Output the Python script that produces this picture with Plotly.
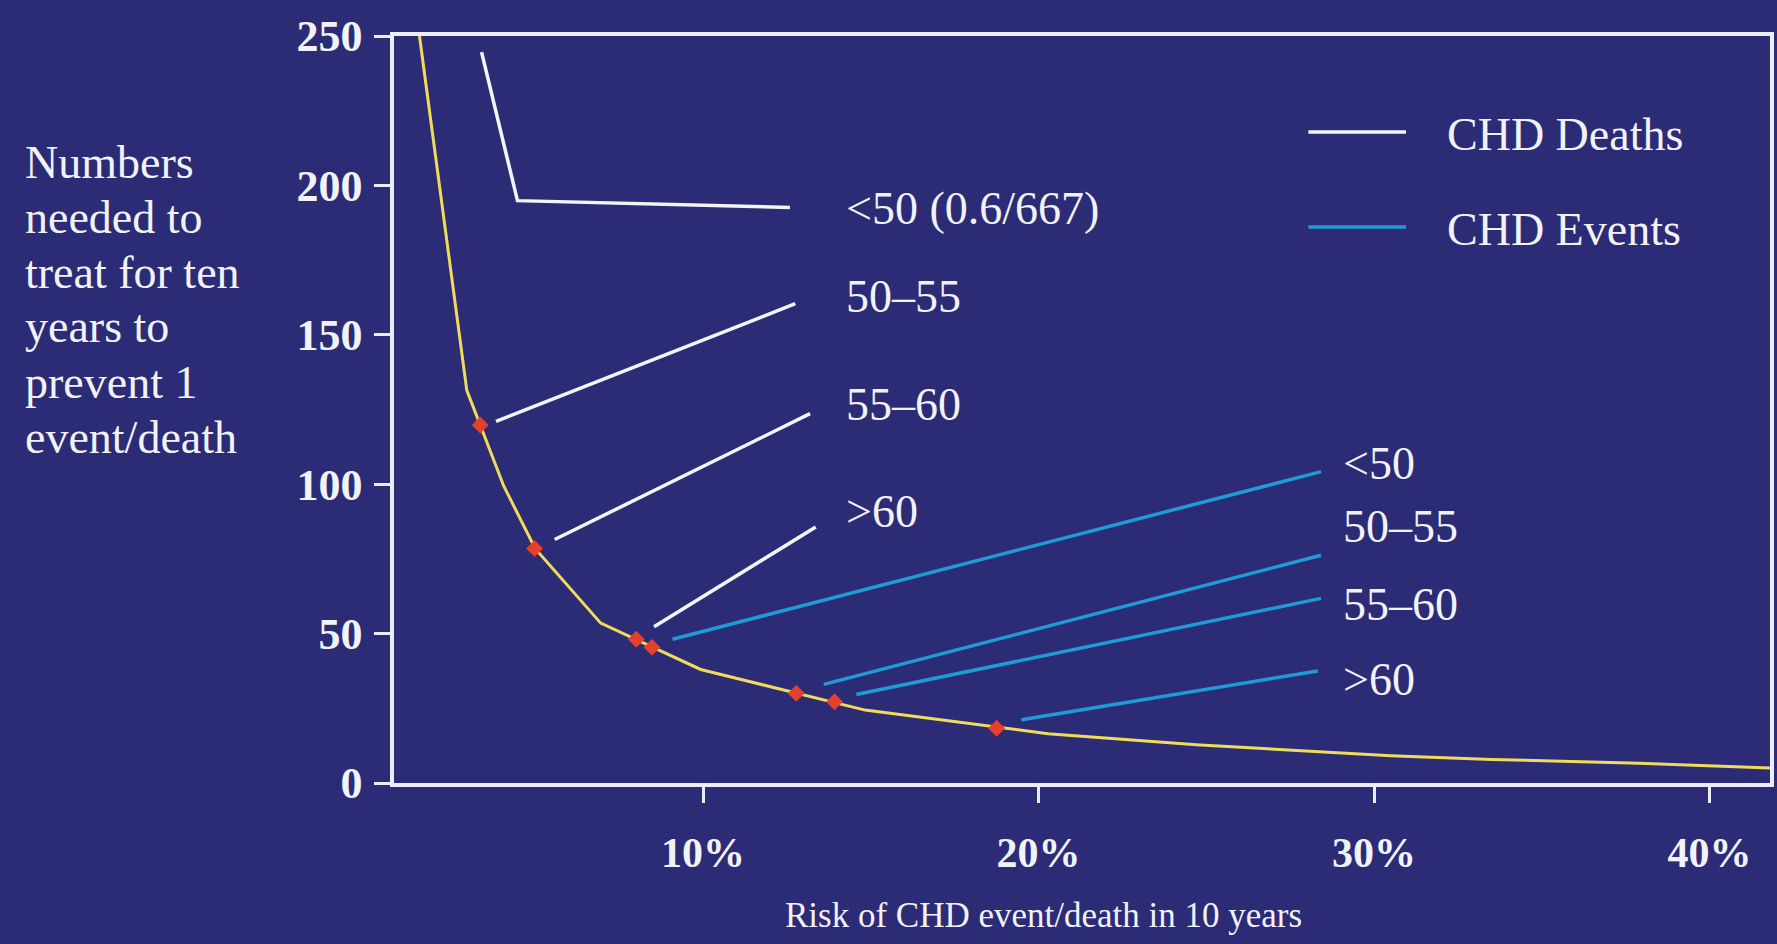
import plotly.graph_objects as go

# ---------------- data ----------------
risk_curve = [1.55, 2.96, 4.06, 5.0, 6.95, 9.93, 14.83, 20.28, 24.7, 30.5, 33.5, 37.9, 41.8]
nnt_curve = [250, 131.4, 99.4, 78.4, 53.5, 38.0, 24.4, 16.5, 12.8, 9.1, 7.9, 6.6, 5.0]

death_groups = ["50–55", "55–60", ">60"]
death_risk = [3.36, 4.98, 8.01]
death_nnt = [119.8, 78.5, 48.1]
death_offchart_label = "<50 (0.6/667)"

event_groups = ["<50", "50–55", "55–60", ">60"]
event_risk = [8.48, 12.78, 13.92, 18.75]
event_nnt = [45.4, 30.0, 27.2, 18.3]

y_ticks = [0, 50, 100, 150, 200, 250]
x_ticks = [10, 20, 30, 40]
x_ticktext = ["10%", "20%", "30%", "40%"]

y_title_lines = ["Numbers", "needed to", "treat for ten", "years to", "prevent 1", "event/death"]
x_title = "Risk of CHD event/death in 10 years"
legend_names = ["CHD Deaths", "CHD Events"]

# ---------------- annotation layout (data units) ----------------
death_start = [(3.83, 121.0), (5.58, 81.5), (8.54, 52.3)]
death_end = [(12.75, 160.4), (13.19, 123.6), (13.36, 85.7)]
death_label_y = [162.7, 126.8, 91.0]
offchart_path = [(3.40, 244.6), (4.47, 194.9), (12.59, 192.6)]
offchart_label_y = 192.4
death_label_x = 14.2

event_start = [(9.09, 48.1), (13.6, 33.0), (14.57, 29.6), (19.49, 21.2)]
event_end = [(28.42, 104.2), (28.42, 76.2), (28.42, 61.8), (28.32, 37.5)]
event_label_y = [106.8, 85.7, 59.9, 34.5]
event_label_x = 29.0

BG = "#2c2b75"
FG = "#f2f2fa"
AXIS = "#ececfb"
YELLOW = "#efdc5c"
RED = "#e4402c"
BLUE = "#1f9bd6"
WHITE = "#f4f4fb"
SERIF = "Liberation Serif"
LABEL_SIZE = 46

fig = go.Figure()

# leader lines for deaths (white)
xs, ys = [], []
for (x, y) in offchart_path:
    xs.append(x); ys.append(y)
xs.append(None); ys.append(None)
for s, e in zip(death_start, death_end):
    xs += [s[0], e[0], None]
    ys += [s[1], e[1], None]
fig.add_trace(go.Scatter(x=xs, y=ys, mode="lines", line=dict(color=WHITE, width=3.5),
                         hoverinfo="skip", showlegend=False))

# leader lines for events (blue)
xs, ys = [], []
for s, e in zip(event_start, event_end):
    xs += [s[0], e[0], None]
    ys += [s[1], e[1], None]
fig.add_trace(go.Scatter(x=xs, y=ys, mode="lines", line=dict(color=BLUE, width=3.5),
                         hoverinfo="skip", showlegend=False))

# NNT curve
fig.add_trace(go.Scatter(x=risk_curve, y=nnt_curve, mode="lines",
                         line=dict(color=YELLOW, width=3), showlegend=False))

# red markers
fig.add_trace(go.Scatter(x=death_risk + event_risk, y=death_nnt + event_nnt, mode="markers",
                         marker=dict(symbol="diamond", size=13, color=RED),
                         text=death_groups + event_groups, showlegend=False))

annotations = []
annotations.append(dict(x=death_label_x, y=offchart_label_y, xref="x", yref="y",
                        text=death_offchart_label, showarrow=False, xanchor="left", yanchor="middle",
                        font=dict(family=SERIF, size=LABEL_SIZE, color=FG)))
for g, ly in zip(death_groups, death_label_y):
    annotations.append(dict(x=death_label_x, y=ly, xref="x", yref="y", text=g, showarrow=False,
                            xanchor="left", yanchor="middle",
                            font=dict(family=SERIF, size=LABEL_SIZE, color=FG)))
for g, ly in zip(event_groups, event_label_y):
    annotations.append(dict(x=event_label_x, y=ly, xref="x", yref="y", text=g, showarrow=False,
                            xanchor="left", yanchor="middle",
                            font=dict(family=SERIF, size=LABEL_SIZE, color=FG)))

# y title, one annotation per line (pixel-based line spacing)
plot_top, plot_h = 36, 747
first_line_px, line_gap_px = 162, 55
for i, line in enumerate(y_title_lines):
    py = first_line_px + i * line_gap_px
    annotations.append(dict(x=(22 - 394) / 1380, y=(plot_top + plot_h - py) / plot_h,
                            xref="paper", yref="paper", text=line, showarrow=False,
                            xanchor="left", yanchor="middle",
                            font=dict(family=SERIF, size=LABEL_SIZE, color=FG)))

annotations.append(dict(x=0.4717, y=-0.178, xref="paper", yref="paper",
                        text=x_title, showarrow=False, xanchor="center", yanchor="middle",
                        font=dict(family=SERIF, size=35, color=FG)))

# legend
annotations.append(dict(x=0.764, y=0.8688, xref="paper", yref="paper", text=legend_names[0],
                        showarrow=False, xanchor="left", yanchor="middle",
                        font=dict(family=SERIF, size=LABEL_SIZE, color=FG)))
annotations.append(dict(x=0.764, y=0.7416, xref="paper", yref="paper", text=legend_names[1],
                        showarrow=False, xanchor="left", yanchor="middle",
                        font=dict(family=SERIF, size=LABEL_SIZE, color=FG)))
shapes = [
    dict(type="line", xref="paper", yref="paper", x0=0.6645, x1=0.7355, y0=0.8715, y1=0.8715,
         line=dict(color=WHITE, width=3.5)),
    dict(type="line", xref="paper", yref="paper", x0=0.6645, x1=0.7355, y0=0.7443, y1=0.7443,
         line=dict(color=BLUE, width=3.5)),
]

fig.update_layout(
    width=1777, height=944,
    margin=dict(l=394, r=3, t=36, b=161),
    paper_bgcolor=BG, plot_bgcolor=BG,
    annotations=annotations, shapes=shapes,
    showlegend=False,
    xaxis=dict(range=[0.79, 41.8], tickvals=x_ticks, ticktext=x_ticktext,
               showgrid=False, zeroline=False, showline=True, linecolor=AXIS, linewidth=3.5,
               mirror=True, ticks="outside", ticklen=16, tickwidth=3, tickcolor=AXIS,
               ticklabelstandoff=14,
               tickfont=dict(family=SERIF, size=42, color=FG, weight="bold")),
    yaxis=dict(range=[0, 250], tickvals=y_ticks,
               showgrid=False, zeroline=False, showline=True, linecolor=AXIS, linewidth=3.5,
               mirror=True, ticks="outside", ticklen=16, tickwidth=3, tickcolor=AXIS,
               ticklabelstandoff=3,
               tickfont=dict(family=SERIF, size=44, color=FG, weight="bold")),
)

fig.write_html("out.html", config={"displayModeBar": False},
               post_script="document.body.style.margin='0';document.body.style.background='" + BG + "';")
